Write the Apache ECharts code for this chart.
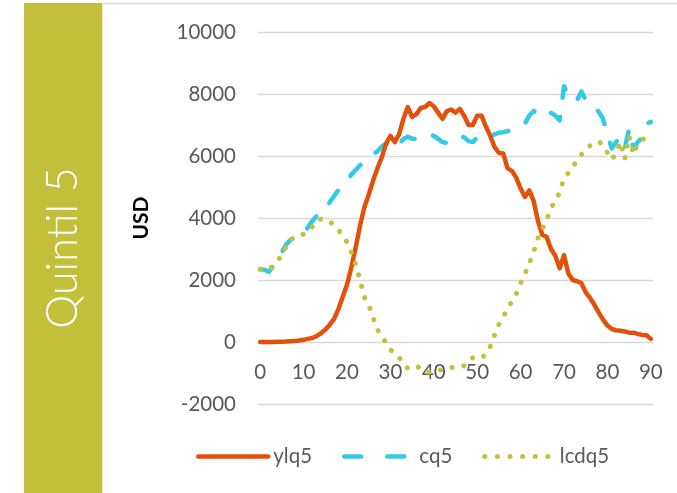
<!DOCTYPE html>
<html>
<head>
<meta charset="utf-8">
<script src="https://cdn.jsdelivr.net/npm/echarts@6/dist/echarts.min.js"></script>
<style>
html,body{margin:0;padding:0;background:#fff;}
#c{width:677px;height:493px;}
</style>
</head>
<body>
<div id="c"></div>
<script>
var ages = [0,1,2,3,4,5,6,7,8,9,10,11,12,13,14,15,16,17,18,19,20,21,22,23,24,25,26,27,28,29,30,
31,32,33,34,35,36,37,38,39,40,41,42,43,44,45,46,47,48,49,50,51,52,53,54,55,56,57,58,59,60,
61,62,63,64,65,66,67,68,69,70,71,72,73,74,75,76,77,78,79,80,81,82,83,84,85,86,87,88,89,90];

var ylq5 = [0,0,0,0,5,10,15,25,35,50,70,100,130,190,280,400,550,740,1050,1450,1850,
2400,3050,3750,4350,4750,5200,5600,5950,6400,6650,
6450,6700,7200,7580,7260,7350,7550,7580,7710,7600,
7400,7200,7450,7500,7400,7520,7300,7000,7000,7300,
7300,6950,6650,6290,6100,6080,5600,5520,5300,4950,
4680,4890,4550,3900,3460,3390,3000,2780,2380,2800,
2210,2000,1960,1900,1600,1420,1200,950,720,530,
420,380,360,340,300,300,260,230,220,100];

var cq5 = [2350,2330,2260,2450,2700,2900,3150,3300,3330,3420,3520,
3700,3900,4060,4100,4350,4500,4700,4900,5050,5200,
5400,5550,5700,5850,5970,6050,6150,6300,6400,6400,
6250,6380,6550,6620,6560,6550,6600,6680,6700,6650,
6550,6450,6420,6500,6580,6650,6600,6480,6450,6600,
6620,6620,6650,6700,6750,6770,6800,6850,6920,7000,
7050,7300,7450,7370,7300,7250,7390,7300,7150,8250,
7950,7780,7800,8080,7800,7750,7620,7420,7200,6700,
6240,6450,6600,6240,6880,6240,6450,6600,7040,7100];

var lcdq5 = [2345,2340,2350,2450,2600,2830,3080,3300,3380,3420,3480,
3560,3720,3930,3960,3950,3880,3780,3620,3450,3220,
2900,2500,2000,1450,1200,800,400,200,-30,-250,
-350,-500,-700,-850,-800,-780,-850,-950,-980,-980,
-930,-880,-850,-830,-800,-790,-770,-650,-500,-500,
-510,-400,-150,230,570,800,1100,1300,1550,1900,
2200,2550,2900,3350,3650,3950,4300,4600,4800,5300,
5450,5650,5850,6050,6200,6330,6400,6470,6350,6100,
5880,6100,6450,5900,6640,6050,6400,6500,6650,6700];

var yTicks = {min: -2000, max: 10000, interval: 2000};

var FONT = 'Lato, "Open Sans", sans-serif';
var chart = echarts.init(document.getElementById('c'), null, {renderer: 'canvas'});
chart.setOption({
  animation: false,
  backgroundColor: '#ffffff',
  graphic: [
    {type: 'rect', shape: {x: 24, y: 3, width: 78, height: 490}, style: {fill: '#C2BF3B'}, z: 0},
    {type: 'line', shape: {x1: 102, y1: 3.5, x2: 677, y2: 3.5}, style: {stroke: '#d9d9d9', lineWidth: 1.5}, z: 0},
    {type: 'line', shape: {x1: 102.5, y1: 3, x2: 102.5, y2: 493}, style: {stroke: '#eeeeee', lineWidth: 1}, z: 0},
    {type: 'text', x: 63, y: 248, rotation: Math.PI / 2,
     style: {text: 'Quintil 5', fill: '#ffffff', font: '300 43px ' + FONT, align: 'center', verticalAlign: 'middle'}, z: 1}
  ],
  grid: {left: 258, right: 24, top: 32, bottom: 89, containLabel: false},
  legend: {
    left: 196, top: 446, itemWidth: 70, itemHeight: 20, itemGap: 30, padding: 0,
    itemStyle: {opacity: 0},
    lineStyle: {width: 4.5},
    textStyle: {fontFamily: FONT, fontSize: 20.5, color: '#595959'},
    data: [
      {name: 'ylq5'},
      {name: 'cq5', lineStyle: {type: [17, 26], width: 4.5}},
      {name: 'lcdq5', lineStyle: {type: [0.1, 12.5], width: 5}}
    ]
  },
  xAxis: {
    type: 'category', data: ages, boundaryGap: true, position: 'bottom', offset: -62,
    axisLine: {show: false, onZero: false},
    axisTick: {show: false},
    splitLine: {show: false},
    axisLabel: {interval: 9, fontFamily: FONT, fontSize: 20.5, color: '#595959', margin: 20}
  },
  yAxis: {
    type: 'value', min: yTicks.min, max: yTicks.max, interval: yTicks.interval,
    name: 'USD', nameLocation: 'middle', nameGap: 106, nameRotate: 90,
    nameTextStyle: {fontFamily: FONT, fontSize: 21, fontWeight: 'bold', color: '#000000'},
    axisLine: {show: false}, axisTick: {show: false},
    axisLabel: {fontFamily: FONT, fontSize: 20.5, color: '#595959', margin: 22,
      formatter: function (v) { return String(v); }},
    splitLine: {lineStyle: {color: '#d9d9d9', width: 1.4}}
  },
  series: [
    {name: 'ylq5', type: 'line', data: ylq5, symbol: 'none', z: 3,
     lineStyle: {color: '#E2500A', width: 4.5, cap: 'round', join: 'round'},
     itemStyle: {color: '#E2500A'}},
    {name: 'cq5', type: 'line', data: cq5, symbol: 'none', z: 2,
     lineStyle: {color: '#31CBE8', width: 4.5, type: [15, 19.5], cap: 'round', join: 'round'},
     itemStyle: {color: '#31CBE8'}},
    {name: 'lcdq5', type: 'line', data: lcdq5, symbol: 'none', z: 4,
     lineStyle: {color: '#C4C03C', width: 5, type: [0.1, 11.8], cap: 'round', join: 'round'},
     itemStyle: {color: '#C4C03C'}}
  ]
});
</script>
</body>
</html>
